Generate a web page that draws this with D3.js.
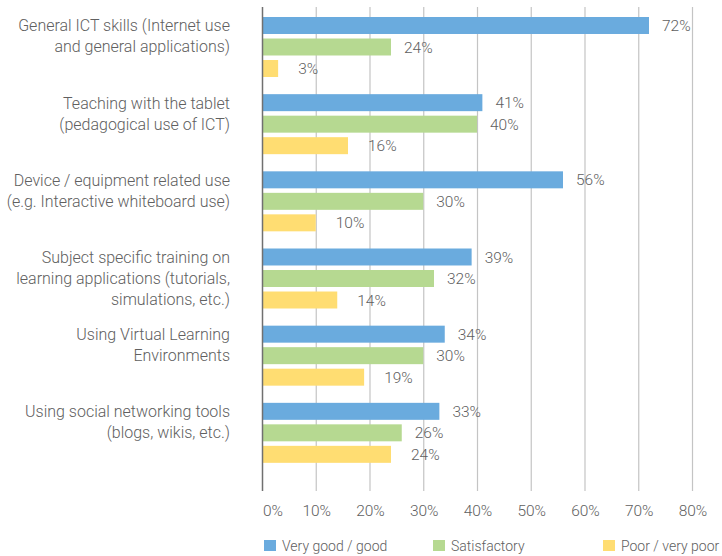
<!DOCTYPE html>
<html>
<head>
<meta charset="utf-8">
<script src="https://cdn.jsdelivr.net/npm/d3@7"></script>
<style>
  body { margin: 0; background: #fff; }
  text { font-family: Roboto, "Liberation Sans", sans-serif; font-weight: 300; fill: #606060; }
</style>
</head>
<body>
<div id="container"></div>
<script>
/* DATA */
const categories = [
  "General ICT skills (Internet use\nand general applications)",
  "Teaching with the tablet\n(pedagogical use of ICT)",
  "Device / equipment related use\n(e.g. Interactive whiteboard use)",
  "Subject specific training on\nlearning applications (tutorials,\nsimulations, etc.)",
  "Using Virtual Learning\nEnvironments",
  "Using social networking tools\n(blogs, wikis, etc.)"
];
const seriesNames = ["Very good / good", "Satisfactory", "Poor / very poor"];
const veryGood = [72, 41, 56, 39, 34, 33];
const satisfactory = [24, 40, 30, 32, 30, 26];
const poor = [3, 16, 10, 14, 19, 24];
const xTicks = [0, 10, 20, 30, 40, 50, 60, 70, 80];

const colors = ["#6aabde", "#b6d991", "#ffdd72"];
const labelGap = [13, 13, 20];

/* LAYOUT */
const width = 722, height = 556;
const plot = {left: 262, right: 692, top: 7, bottom: 491};

const svg = d3.select("#container")
  .append("svg")
  .attr("width", width)
  .attr("height", height);

// the source uses a condensed face; squeeze a regular one to the same width
const probe = svg.append("text").style("font-size", "16px").text("General ICT skills (Internet use");
const sx = 212 / probe.node().getComputedTextLength();
probe.remove();

function place(sel, x, y) {
  sel.attr("transform", d => `translate(${typeof x === "function" ? x(d) : x},${typeof y === "function" ? y(d) : y}) scale(${sx},1)`);
}

const rows = categories.map((c, i) => ({
  category: c,
  values: [veryGood[i], satisfactory[i], poor[i]]
}));

/* SCALES */
const xScale = d3.scaleLinear()
  .domain([0, 80])
  .range([plot.left, plot.right]);

const yScale = d3.scaleBand()
  .domain(categories)
  .range([17, 480]);

const ySub = d3.scaleBand()
  .domain(seriesNames)
  .range([0, 60])
  .paddingInner(0.21);

/* GRID */
svg.append("g")
  .selectAll("line")
  .data(xTicks.slice(1))
  .join("line")
  .attr("x1", d => xScale(d) + 0.5)
  .attr("x2", d => xScale(d) + 0.5)
  .attr("y1", plot.top)
  .attr("y2", plot.bottom)
  .attr("stroke", "#c4c4c4")
  .attr("stroke-width", 1.2);

/* BARS */
const groups = svg.append("g")
  .selectAll("g")
  .data(rows)
  .join("g")
  .attr("transform", d => `translate(0,${yScale(d.category)})`);

groups.selectAll("rect")
  .data(d => d.values.map((v, j) => ({series: seriesNames[j], value: v, j: j})))
  .join("rect")
  .attr("x", xScale(0))
  .attr("y", d => ySub(d.series))
  .attr("width", d => xScale(d.value) - xScale(0))
  .attr("height", ySub.bandwidth())
  .attr("fill", d => colors[d.j]);

groups.selectAll("text.val")
  .data(d => d.values.map((v, j) => ({series: seriesNames[j], value: v, j: j})))
  .join("text")
  .attr("class", "val")
  .attr("dy", "0.36em")
  .style("font-size", "15.5px")
  .text(d => d.value + "%")
  .call(place, d => xScale(d.value) + labelGap[d.j], d => ySub(d.series) + ySub.bandwidth() / 2);

/* CATEGORY LABELS */
groups.append("text")
  .attr("text-anchor", "end")
  .style("font-size", "16px")
  .call(place, 230, ySub.bandwidth() / 2 + 6)
  .selectAll("tspan")
  .data(d => d.category.split("\n"))
  .join("tspan")
  .attr("x", 0)
  .attr("dy", (d, i) => i === 0 ? 0 : 21)
  .text(d => d);

/* AXIS LINE (0%) */
svg.append("line")
  .attr("x1", xScale(0) + 0.5)
  .attr("x2", xScale(0) + 0.5)
  .attr("y1", plot.top)
  .attr("y2", plot.bottom)
  .attr("stroke", "#707070")
  .attr("stroke-width", 1.5);

/* X TICK LABELS */
svg.append("g")
  .selectAll("text")
  .data(xTicks)
  .join("text")
  .attr("text-anchor", d => d === 0 ? "start" : "middle")
  .style("font-size", "15.5px")
  .text(d => d + "%")
  .call(place, d => xScale(d) + 1, 516);

/* LEGEND */
const legendX = [264, 433, 603];
const legend = svg.append("g")
  .selectAll("g")
  .data(seriesNames)
  .join("g")
  .attr("transform", (d, i) => `translate(${legendX[i]},540)`);

legend.append("rect")
  .attr("width", 12)
  .attr("height", 11)
  .attr("fill", (d, i) => colors[i]);

legend.append("text")
  .style("font-size", "14px")
  .text(d => d)
  .call(place, 18, 11);
</script>
</body>
</html>
